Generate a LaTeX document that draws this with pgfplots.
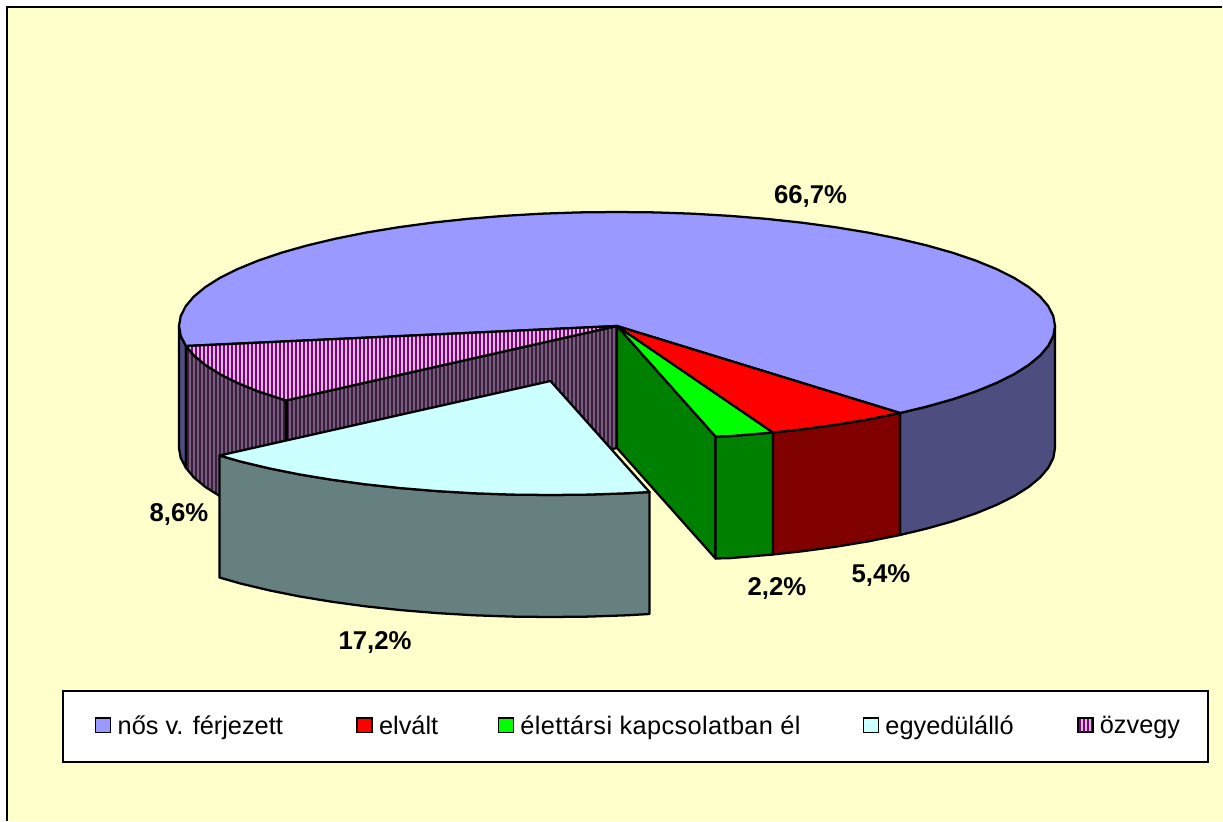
\documentclass[border=0pt]{standalone}
\usepackage{fontspec}
\setmainfont{Liberation Sans}
\usepackage{pgfplots}
\pgfplotsset{compat=1.18}
\usetikzlibrary{patterns.meta}
\definecolor{bgc}{HTML}{FFFFCC}
\definecolor{blueT}{HTML}{9999FF}
\definecolor{blueS}{HTML}{4D4D80}
\definecolor{redT}{HTML}{FF0000}
\definecolor{redS}{HTML}{800000}
\definecolor{greenT}{HTML}{00FF00}
\definecolor{greenS}{HTML}{008000}
\definecolor{cyanT}{HTML}{CCFFFF}
\definecolor{cyanS}{HTML}{668080}
\definecolor{purT}{HTML}{800080}
\definecolor{purTb}{HTML}{D8BCD8}
\definecolor{purS}{HTML}{401A40}
\definecolor{purSb}{HTML}{70607A}
\tikzset{
  edge/.style={draw=black,line width=1.7pt,line join=round},
  stripesT/.style={pattern={Lines[angle=90,distance=3pt,line width=0.85pt]},pattern color=purT},
  stripesS/.style={pattern={Lines[angle=90,distance=3pt,line width=1pt]},pattern color=purS}
}
\begin{document}
\begin{tikzpicture}
\begin{axis}[
  scale only axis,width=917.25pt,height=615.75pt,
  xmin=0,xmax=1223,ymin=0,ymax=821,y dir=reverse,
  hide axis,
  every axis plot/.append style={forget plot,mark=none},
  legend columns=5,
  legend cell align=left,
  legend image code/.code={\draw[#1,line width=1.2pt] (0.4pt,-4.7pt) rectangle (11.6pt,6.1pt);\path (14.2pt,0pt);},
  legend style={at={(axis cs:61.5,689.5)},anchor=north west,draw=black,line width=1.5pt,fill=white,
    font=\fontsize{19}{23}\selectfont,inner xsep=24.25pt,inner ysep=17pt,
    /tikz/every even column/.append style={column sep=44.5pt}},
]
% legend
\addlegendimage{fill=blueT,draw=black}\addlegendentry{nős v. férjezett\kern8.5pt}
\addlegendimage{fill=redT,draw=black}\addlegendentry{elvált\kern-2pt}
\addlegendimage{fill=greenT,draw=black}\addlegendentry{\addfontfeature{LetterSpace=1.5}élettársi kapcsolatban él}
\addlegendimage{fill=cyanT,draw=black}\addlegendentry{egyedülálló\kern1pt}
\addlegendimage{preaction={fill=purTb},stripesT,draw=black}\addlegendentry{özvegy\kern-5.5pt}
% page and plot area
\addplot[fill=white,draw=none] coordinates {(0,0)(1223,0)(1223,821)(0,821)} --cycle;
\addplot[fill=bgc,draw=none] coordinates {(7,7)(1223,7)(1223,821)(7,821)} --cycle;
\addplot[draw=black,line width=1.5pt] coordinates {(7,821)(7,7)(1222,7)};
% main slice: side walls
\addplot[fill=blueS,edge] coordinates {(1055,326)(1053.3,335.9)(1048.3,345.8)(1040.1,355.5)(1028.6,365)(1014,374.2)(996.3,383)(975.8,391.4)(952.5,399.3)(926.7,406.6)(900,413)(900,535)(926.7,528.6)(952.5,521.3)(975.8,513.4)(996.3,505)(1014,496.2)(1028.6,487)(1040.1,477.5)(1048.3,467.8)(1053.3,457.9)(1055,448)} --cycle;
\addplot[fill=blueS,edge] coordinates {(179,326)(180.7,335.9)(186,346)(186,468)(180.7,457.9)(179,448)} --cycle;
% main slice: top
\addplot[fill=blueT,edge] coordinates {(617,326)(900,413)(926.7,406.6)(952.5,399.3)(975.8,391.4)(996.3,383)(1014,374.2)(1028.6,365)(1040.1,355.5)(1048.3,345.8)(1053.3,335.9)(1055,326)(1053.3,316.1)(1048.3,306.2)(1040.1,296.5)(1028.6,287)(1014,277.8)(996.3,269)(975.8,260.6)(952.5,252.7)(926.7,245.4)(898.5,238.7)(868.2,232.6)(836,227.3)(802.1,222.7)(766.8,218.9)(730.4,215.9)(693.1,213.7)(655.2,212.4)(617,212)(578.8,212.4)(540.9,213.7)(503.6,215.9)(467.2,218.9)(431.9,222.7)(398,227.3)(365.8,232.6)(335.5,238.7)(307.3,245.4)(281.5,252.7)(258.2,260.6)(237.7,269)(220,277.8)(205.4,287)(193.9,296.5)(185.7,306.2)(180.7,316.1)(179,326)(180.7,335.9)(186,346)} --cycle;
% ozvegy: outer wall, inner wall, top
\addplot[fill=purSb,draw=none] coordinates {(186,346)(193.9,355.5)(205.4,365)(220,374.2)(237.7,383)(258.2,391.4)(286,400.5)(286,522.5)(258.2,513.4)(237.7,505)(220,496.2)(205.4,487)(193.9,477.5)(186,468)} --cycle;
\addplot[stripesS,edge] coordinates {(186,346)(193.9,355.5)(205.4,365)(220,374.2)(237.7,383)(258.2,391.4)(286,400.5)(286,522.5)(258.2,513.4)(237.7,505)(220,496.2)(205.4,487)(193.9,477.5)(186,468)} --cycle;
\addplot[fill=purSb,draw=none] coordinates {(286,400.5)(617,326)(617,448)(286,522.5)} --cycle;
\addplot[stripesS,edge] coordinates {(286,400.5)(617,326)(617,448)(286,522.5)} --cycle;
\addplot[fill=purTb,draw=none] coordinates {(617,326)(186,346)(193.9,355.5)(205.4,365)(220,374.2)(237.7,383)(258.2,391.4)(286,400.5)} --cycle;
\addplot[stripesT,edge] coordinates {(617,326)(186,346)(193.9,355.5)(205.4,365)(220,374.2)(237.7,383)(258.2,391.4)(286,400.5)} --cycle;
\addplot[draw=black,line width=2.2pt] coordinates {(286.5,400.5)(286.5,445)};
% green: wall, outer wall, top
\addplot[fill=greenS,edge] coordinates {(617,326)(715.5,436.5)(715.5,558.5)(617,448)} --cycle;
\addplot[fill=greenS,edge] coordinates {(715.5,436.5)(730.4,436.1)(773,432.5)(773,554.5)(730.4,558.1)(715.5,558.5)} --cycle;
\addplot[fill=greenT,edge] coordinates {(617,326)(715.5,436.5)(730.4,436.1)(773,432.5)} --cycle;
% red: outer wall, top
\addplot[fill=redS,edge] coordinates {(773,432.5)(802.1,429.3)(836,424.7)(868.2,419.4)(900,413)(900,535)(868.2,541.4)(836,546.7)(802.1,551.3)(773,554.5)} --cycle;
\addplot[fill=redT,edge] coordinates {(617,326)(773,432.5)(802.1,429.3)(836,424.7)(868.2,419.4)(900,413)} --cycle;
% egyedulallo (exploded): outer wall, top
\addplot[fill=cyanS,edge] coordinates {(219.5,455.5)(240.8,461.6)(269,468.3)(299.3,474.4)(331.5,479.7)(365.4,484.3)(400.7,488.1)(437.1,491.1)(474.4,493.3)(512.3,494.6)(550.5,495)(588.7,494.6)(626.6,493.3)(649.5,492)(649.5,614)(626.6,615.3)(588.7,616.6)(550.5,617)(512.3,616.6)(474.4,615.3)(437.1,613.1)(400.7,610.1)(365.4,606.3)(331.5,601.7)(299.3,596.4)(269,590.3)(240.8,583.6)(219.5,577.5)} --cycle;
\addplot[fill=cyanT,edge] coordinates {(550.5,381)(219.5,455.5)(240.8,461.6)(269,468.3)(299.3,474.4)(331.5,479.7)(365.4,484.3)(400.7,488.1)(437.1,491.1)(474.4,493.3)(512.3,494.6)(550.5,495)(588.7,494.6)(626.6,493.3)(649.5,492)} --cycle;
% data labels
\tikzset{lab/.style={font=\fontsize{19.3}{23}\selectfont\bfseries,inner sep=0pt}}
\node[lab] at (axis cs:810.5,197) {66,7\%};
\node[lab] at (axis cs:179,514) {8,6\%};
\node[lab] at (axis cs:375,642) {17,2\%};
\node[lab] at (axis cs:777,588) {2,2\%};
\node[lab] at (axis cs:881,576) {5,4\%};
\end{axis}
\end{tikzpicture}
\end{document}
